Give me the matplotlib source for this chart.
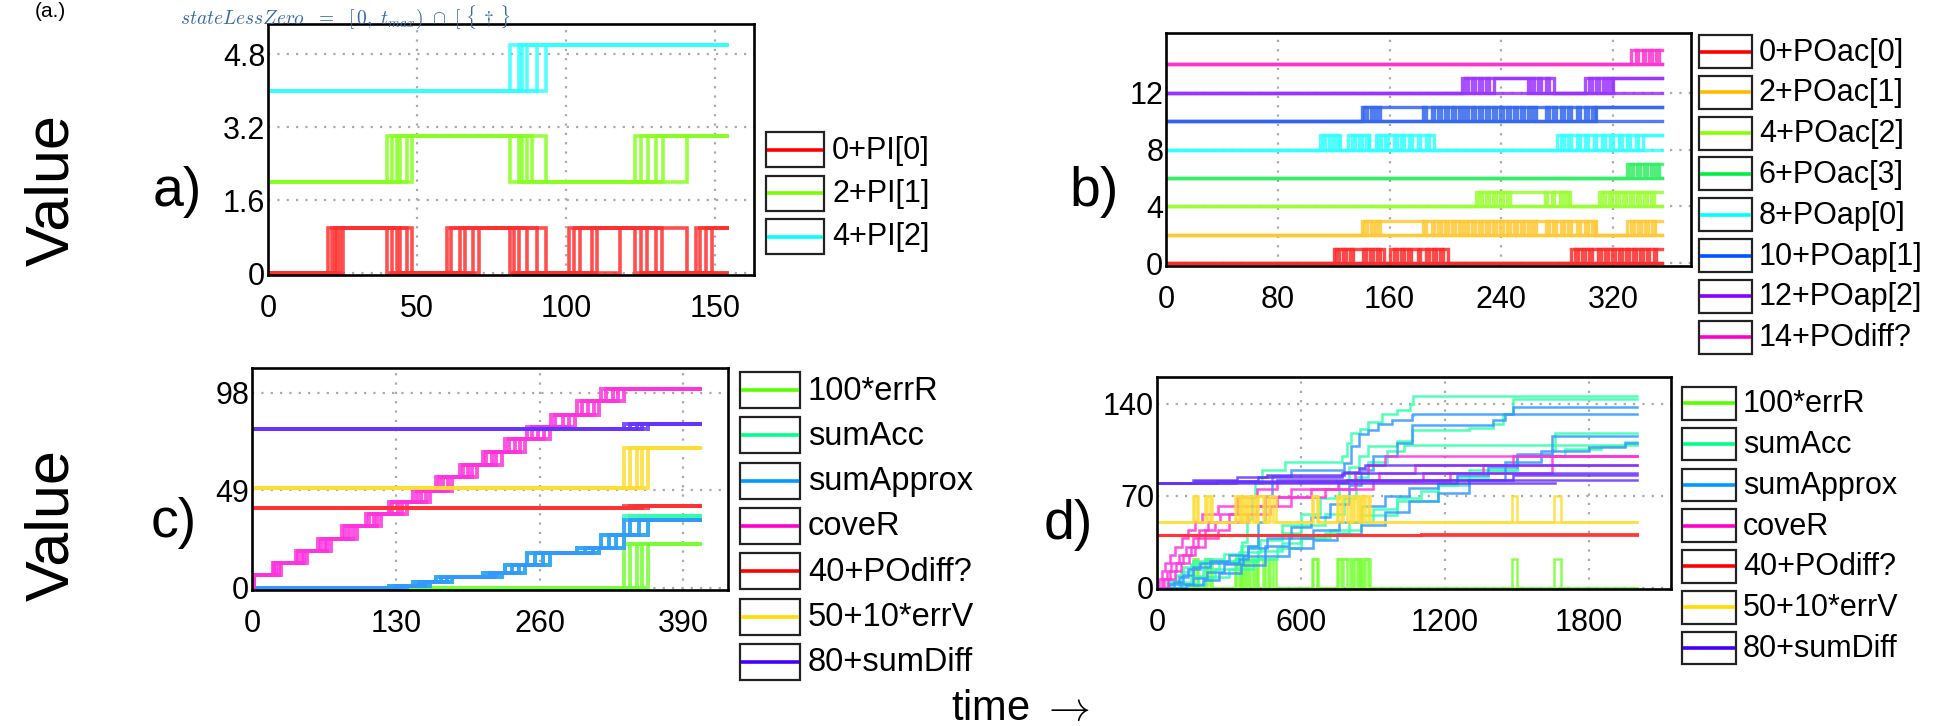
import matplotlib
matplotlib.use("Agg")
import matplotlib.pyplot as plt
from matplotlib.patches import Rectangle

plt.rcParams['font.family'] = ['Liberation Sans', 'DejaVu Sans']
plt.rcParams['mathtext.fontset'] = 'cm'

W, H = 1941, 726

# ---------------- panel a : PI flags (several runs, toggle times) ----------------
a_labels = ['0+PI[0]', '2+PI[1]', '4+PI[2]']
a_offsets = [0, 2, 4]
a_colors = ['#ff3030', '#88ff22', '#33ffff']
a_legend_colors = ['#ff0000', '#77ff00', '#00ffff']
a_t_end = 154
a_runs = [
    [[20.0, 40.0, 60.0, 81.0, 101.0, 123.0, 143.5],
     [21.5, 41.5, 61.5, 82.5, 102.5, 125.0, 145.0],
     [22.5, 43.2, 64.4, 84.3, 104.7, 127.0, 147.0],
     [24.2, 46.6, 68.9, 86.8, 108.6, 130.0],
     [25.3, 48.2, 70.6, 90.1, 110.3, 132.0],
     [23.0, 44.3, 66.0, 93.3, 118.1, 140.6, 149.0]],
    [[40.0, 81.0, 123.0], [41.5, 84.3, 125.0], [44.3, 86.8, 127.5],
     [46.6, 88.5, 130.0], [48.2, 93.3, 132.5], [43.2, 85.1, 140.6]],
    [[81.0], [84.3], [85.1], [86.8], [90.1], [93.3]],
]

# ---------------- panel b : PO flags (envelope / pulse / base runs) ----------------
b_labels = ['0+POac[0]', '2+POac[1]', '4+POac[2]', '6+POac[3]',
            '8+POap[0]', '10+POap[1]', '12+POap[2]', '14+POdiff?']
b_offsets = [0, 2, 4, 6, 8, 10, 12, 14]
b_colors = ['#ff2a2a', '#ffc833', '#99ff33', '#33ee66',
            '#33ffff', '#3366ee', '#9933ff', '#ff33cc']
b_legend_colors = ['#ff0000', '#ffbb00', '#88ff00', '#00ee44',
                   '#00ffff', '#0055ff', '#8800ff', '#ff00cc']
b_t_end = 355
b_env = [
    [120, 156, 160, 202, 290],
    [140, 308, 330],
    [222, 289, 310],
    [330],
    [110, 124.5, 130, 145.5, 150, 192, 280],
    [140],
    [212, 278, 300],
    [333],
]
b_base = [[], [], [], [], [341.6], [308], [235, 259, 320], []]
b_pulse = [
    [122, 124, 127, 129, 132, 134, 141, 143, 146, 148, 151, 153,
     163, 165, 168, 170, 173, 175, 180, 182, 186, 188, 191, 193, 196, 198,
     293, 295, 298, 300, 303, 305, 309, 311, 314, 316, 319, 321, 324, 326,
     329, 331, 334, 336, 339, 341, 344, 346, 349, 351],
    [142, 144, 147, 149, 151, 153,
     184, 186, 190, 192, 195, 197, 200, 202, 205, 207, 210, 212, 214, 216,
     219, 221, 224, 226, 229, 231, 234, 236, 239, 241, 244, 246, 249, 251,
     254, 256, 259, 261, 263, 265,
     272, 274, 277, 279, 283, 285, 288, 290, 294, 296, 300, 302, 305, 307,
     333, 335, 338, 340, 343, 345, 348, 350],
    [224, 226, 229, 231, 234, 236, 239, 241, 244, 246,
     271, 273, 276, 278, 282, 284, 286, 288,
     312, 314, 317, 319, 322, 324, 327, 329, 332, 334, 337, 339, 342, 344, 347, 349],
    [332, 334, 337, 339, 342, 344, 347, 349, 351, 353],
    [112, 114, 117, 119, 121, 123, 133, 135, 138, 140, 143, 145,
     152, 154, 157, 159, 163, 165, 168, 170, 174, 176, 180, 182, 186, 188,
     283, 285, 288, 290, 294, 296, 300, 302, 306, 308, 312, 314, 318, 320,
     324, 326, 330, 332, 336, 338],
    [142, 144, 147, 149, 151, 153,
     184, 186, 190, 192, 195, 197, 200, 202, 205, 207, 210, 212, 214, 216,
     219, 221, 224, 226, 229, 231, 234, 236, 239, 241, 244, 246, 249, 251,
     254, 256, 259, 261, 263, 265,
     272, 274, 277, 279, 283, 285, 288, 290, 294, 296, 300, 302, 305, 307],
    [214, 216, 219, 221, 224, 226, 229, 231, 261, 263, 266, 268, 272, 274,
     303, 305, 308, 310, 313, 315, 317, 319],
    [336, 338, 341, 343, 346, 348, 351, 353],
]

# ---------------- panel c / d shared legend ----------------
cd_labels = ['100*errR', 'sumAcc', 'sumApprox', 'coveR',
             '40+POdiff?', '50+10*errV', '80+sumDiff']
cd_colors = ['#77ff33', '#33ffaa', '#3399ff', '#ff33dd',
             '#ff3333', '#ffdd33', '#6633ff']
cd_legend_colors = ['#55ff00', '#00ff88', '#0099ff', '#ff00cc',
                    '#ff0000', '#ffdd00', '#4400ff']

# ---------------- panel c ----------------
c_t_end = 405
c_cove_v = [6.3, 12.5, 18.5, 24.7, 30.9, 37.1, 43.1, 48.8, 55.6, 61.9,
            68.2, 74.6, 80.8, 87.0, 93.7, 100.0]
c_cove_t = [
    [0, 19, 40, 60, 81, 103, 124, 146, 166, 188, 209, 229, 249, 270, 294, 316],
    [1, 20, 42, 62, 84, 106, 127, 149, 169, 191, 212, 232, 253, 274, 298, 320],
    [1, 22, 45, 66, 88, 110, 132, 153, 173, 195, 217, 238, 259, 281, 304, 326],
    [2, 24, 47, 68, 91, 113, 136, 157, 177, 199, 221, 242, 264, 287, 309, 331],
    [2, 26, 50, 71, 95, 117, 140, 161, 181, 203, 226, 247, 269, 292, 314, 336],
]
c_sum_t = [
    [124, 146, 166, 209, 229, 249, 294, 316, 336],
    [129, 151, 171, 215, 235, 256, 301, 323, 342],
    [135, 156, 176, 220, 241, 263, 308, 329, 350],
    [140, 161, 181, 226, 247, 269, 314, 336, 358],
]
c_approx_v = [1.0, 2.9, 5.4, 7.6, 11.3, 17.6, 20.0, 26.4, 33.9]
c_acc_v = [1.0, 2.9, 5.4, 7.6, 11.3, 17.6, 20.0, 26.4, 36.0]
c_jump_t = [336, 342, 348, 353, 358]
c_errR = (0.0, 22.2)
c_podiff = (40.0, 41.2)
c_errV = (50.0, 70.0)
c_sumdiff = (80.0, 82.1)

# ---------------- panel d ----------------
d_t_end = 2000
d_err_pulses = [(149, 172), (200, 231), (325, 340), (346, 356), (364, 380),
                (388, 408), (415, 450), (464, 494), (644, 672), (749, 767),
                (775, 804), (814, 832), (840, 850), (858, 888), (1478, 1499),
                (1656, 1683)]
d_err_pulses2 = [(155, 165), (210, 222), (330, 350), (372, 398), (420, 440),
                 (470, 485), (650, 665), (755, 790), (820, 845), (865, 880)]
d_errR = (0.0, 22.0)
d_errV = (50.0, 70.0)
d_acc = [
    ([0, 40, 80, 110, 150, 330, 355, 375, 395, 410, 436, 533, 769, 790, 810, 846, 880, 936, 1000, 1054, 1068],
     [0, 4, 10, 16, 20, 23, 35, 52, 68, 80, 90, 96, 100, 110, 118, 121, 126, 132, 135, 140, 146]),
    ([0, 60, 100, 140, 200, 280, 350, 420, 520, 600, 680, 760, 800, 840, 880, 1000, 1061, 1300, 1400, 1440, 1485],
     [0, 5, 12, 18, 22, 26, 32, 40, 48, 56, 68, 80, 92, 100, 108, 112, 120, 122, 125, 132, 143.6]),
    ([0, 90, 140, 190, 260, 340, 430, 520, 600, 700, 780, 830, 880, 960, 1030],
     [0, 4, 9, 14, 20, 27, 36, 42, 48, 56, 68, 84, 96, 104, 109]),
    ([0, 110, 170, 240, 330, 420, 520, 600, 700, 800, 900, 1000, 1100, 1172, 1250, 1380, 1500, 1645, 1658],
     [0, 3, 8, 14, 20, 28, 34, 38, 42, 50, 60, 68, 74, 78, 84, 90, 100, 105, 117.7]),
    ([0, 130, 200, 300, 400, 500, 600, 720, 850, 1000, 1172, 1300, 1500, 1700, 1850, 1950],
     [0, 3, 8, 14, 22, 30, 38, 44, 55, 66, 78, 90, 100, 106, 108, 111]),
]
d_approx = [
    ([0, 50, 90, 130, 180, 340, 380, 420, 450, 480, 560, 780, 810, 840, 881, 920, 980, 1061, 1068],
     [0, 3, 8, 14, 19, 22, 32, 50, 70, 85, 89.8, 95, 108, 117.3, 120, 125, 128, 131.6, 132.1]),
    ([0, 70, 110, 150, 220, 300, 380, 460, 560, 640, 720, 800, 850, 900, 1000, 1061, 1400, 1450, 1485],
     [0, 4, 10, 16, 20, 25, 30, 38, 46, 54, 64, 78, 90, 100, 110, 124, 128, 132, 137.9]),
    ([0, 100, 150, 210, 280, 360, 450, 550, 650, 760, 850, 950, 1050, 1172, 1250, 1380, 1500, 1645],
     [0, 3, 7, 12, 18, 24, 32, 38, 44, 50, 62, 70, 76, 80, 86, 92, 102, 115.9]),
    ([0, 120, 190, 260, 350, 450, 550, 650, 750, 850, 950, 1050, 1172, 1300, 1450, 1600, 1800, 1950],
     [0, 2, 6, 11, 17, 24, 30, 36, 41, 48, 58, 66, 72, 82, 96, 104, 107, 110]),
]
d_cove_v = [0, 6.25, 12.5, 18.75, 25, 31.25, 37.5, 43.75, 50, 56.25, 62.5,
            68.75, 75, 81.25, 87.5, 93.75, 100]
d_cove_t = [
    [0, 8, 19, 33, 54, 75, 103, 131, 158, 186, 256, 332, 415, 499, 825, 881, 950],
    [0, 20, 40, 60, 90, 120, 150, 175, 214, 263, 332, 450, 560, 756, 925, 1075, 1485],
    [0, 30, 55, 80, 110, 140, 170, 200, 240, 300, 415, 499, 640, 825, 1110, 1360, 1645],
    [0, 45, 75, 100, 135, 160, 200, 256, 300, 380, 470, 560, 700, 900, 1221, 1645],
]
d_podiff = [([0, 1100], [39.8, 40.8]), ([0], [40.3])]
d_sumdiff = [
    ([0, 152, 332, 460, 780, 840, 867], [79.7, 82.2, 84.0, 86.0, 88.0, 91.0, 93.4]),
    ([0, 160, 420, 770], [79.7, 81.5, 84.3, 87.6]),
    ([0, 250, 500, 1485], [79.7, 81.0, 82.2, 85.9]),
    ([0, 330, 790], [79.7, 80.5, 82.1]),
    ([0], [79.7]),
]
d_sumdiff_end = [2000, 2000, 2000, 2000, 1658]


def toggle_xy(toggles, base, t_end):
    xs, ys = [0.0], [base]
    state = 0
    for t in toggles:
        state = 1 - state
        xs.append(t)
        ys.append(base + state)
    xs.append(t_end)
    ys.append(ys[-1])
    return xs, ys


def path_xy(ts, vs, t_end):
    return list(ts) + [t_end], list(vs) + [vs[-1]]


def jump_xy(t_jump, v0, v1, t_end):
    return [0, t_jump, t_end], [v0, v1, v1]


def pulse_xy(pulses, v0, v1, t_end):
    xs, ys = [0], [v0]
    for s, e in pulses:
        xs += [s, e]
        ys += [v1, v0]
    return xs + [t_end], ys + [v0]


def stairs(ax, x, y, color, lw, alpha=0.85):
    ax.plot(x, y, drawstyle='steps-post', color=color, lw=lw, alpha=alpha,
            solid_joinstyle='miter')


def style_axes(ax, xticks, yticks, yticklabels, xlim, ylim):
    ax.set_xlim(*xlim)
    ax.set_ylim(*ylim)
    ax.set_xticks(xticks)
    ax.set_yticks(yticks)
    ax.set_yticklabels(yticklabels)
    ax.tick_params(length=0, labelsize=22)
    ax.tick_params(axis='x', pad=14)
    ax.tick_params(axis='y', pad=2)
    ax.grid(True, color='#aaaaaa', lw=1.6, ls=(0, (1, 3.2)))
    ax.set_axisbelow(True)
    for s in ax.spines.values():
        s.set_linewidth(1.9)
        s.set_color('black')


def px(l, t, r, b):
    return [l / W, 1 - b / H, (r - l) / W, (b - t) / H]


fig = plt.figure(figsize=(W / 100, H / 100), dpi=100)

# ----- a -----
ax_a = fig.add_axes(px(268, 24, 754, 275))
for runs, off, col in zip(a_runs, a_offsets, a_colors):
    for tg in runs:
        x, y = toggle_xy(tg, off, a_t_end)
        stairs(ax_a, x, y, col, 2.6)
style_axes(ax_a, [0, 50, 100, 150], [0, 1.6, 3.2, 4.8], ['0', '1.6', '3.2', '4.8'],
           (0, 163), (-0.04, 5.46))

# ----- b -----
ax_b = fig.add_axes(px(1166, 33, 1691, 266))
for env, base, pul, off, col in zip(b_env, b_base, b_pulse, b_offsets, b_colors):
    for tg in (base, env, pul):
        x, y = toggle_xy(tg, off, b_t_end)
        stairs(ax_b, x, y, col, 2.4)
style_axes(ax_b, [0, 80, 160, 240, 320], [0, 4, 8, 12], ['0', '4', '8', '12'],
           (0, 375.7), (-0.2, 16.2))

# ----- c -----
ax_c = fig.add_axes(px(252, 368, 728, 590))
for t in c_jump_t:
    stairs(ax_c, *jump_xy(t, c_errR[0], c_errR[1], c_t_end), cd_colors[0], 2.8)
for ts in c_sum_t:
    stairs(ax_c, *path_xy([0] + ts, [0] + c_acc_v, c_t_end), cd_colors[1], 2.8)
for ts in c_sum_t:
    stairs(ax_c, *path_xy([0] + ts, [0] + c_approx_v, c_t_end), cd_colors[2], 2.8)
for ts in c_cove_t:
    stairs(ax_c, *path_xy([0] + ts, [0] + c_cove_v, c_t_end), cd_colors[3], 2.8)
for t in c_jump_t:
    stairs(ax_c, *jump_xy(t, c_podiff[0], c_podiff[1], c_t_end), cd_colors[4], 2.8)
    stairs(ax_c, *jump_xy(t, c_errV[0], c_errV[1], c_t_end), cd_colors[5], 2.8)
    stairs(ax_c, *jump_xy(t, c_sumdiff[0], c_sumdiff[1], c_t_end), cd_colors[6], 2.8)
style_axes(ax_c, [0, 130, 260, 390], [0, 49, 98], ['0', '49', '98'],
           (0, 430.4), (-1.05, 110.4))

# ----- d -----
ax_d = fig.add_axes(px(1157, 377, 1671, 589))
for pl in (d_err_pulses, d_err_pulses2):
    stairs(ax_d, *pulse_xy(pl, d_errR[0], d_errR[1], d_t_end), cd_colors[0], 1.8)
for ts, vs in d_acc:
    stairs(ax_d, *path_xy(ts, vs, d_t_end), cd_colors[1], 1.8)
for ts, vs in d_approx:
    stairs(ax_d, *path_xy(ts, vs, d_t_end), cd_colors[2], 1.8)
for ts in d_cove_t:
    stairs(ax_d, *path_xy(ts, d_cove_v[:len(ts)], d_t_end), cd_colors[3], 1.8)
for ts, vs in d_podiff:
    stairs(ax_d, *path_xy(ts, vs, d_t_end), cd_colors[4], 2.2)
for pl in (d_err_pulses, d_err_pulses2):
    stairs(ax_d, *pulse_xy(pl, d_errV[0], d_errV[1], d_t_end), cd_colors[5], 1.8)
for (ts, vs), te in zip(d_sumdiff, d_sumdiff_end):
    stairs(ax_d, *path_xy(ts, vs, te), cd_colors[6], 1.8)
style_axes(ax_d, [0, 600, 1200, 1800], [0, 70, 140], ['0', '70', '140'],
           (0, 2142), (-1, 160.5))

# ----- overlay in pixel coordinates: legends and labels -----
ov = fig.add_axes([0, 0, 1, 1], zorder=10)
ov.set_xlim(0, W)
ov.set_ylim(H, 0)
ov.axis('off')
ov.patch.set_alpha(0)


def legend_boxes(x0, x1, y_top, step, h, labels, colors, fs, tx):
    for i, (lab, col) in enumerate(zip(labels, colors)):
        yt = y_top + i * step
        ov.add_patch(Rectangle((x0, yt), x1 - x0, h, fill=False, lw=1.6, ec='#222222'))
        ov.plot([x0 + 1, x1 - 1], [yt + h / 2] * 2, color=col, lw=2.6, solid_capstyle='butt')
        ov.text(tx, yt + h / 2 + 1, lab, fontsize=fs, va='center', ha='left')


legend_boxes(766, 824, 132, 43.5, 35, a_labels, a_legend_colors, 22, 832)
legend_boxes(1699, 1752, 35, 40.8, 33, b_labels, b_legend_colors, 22, 1759)
legend_boxes(740, 800, 372, 45.3, 36, cd_labels, cd_legend_colors, 23.5, 808)
legend_boxes(1682, 1736, 387, 40.8, 32.5, cd_labels, cd_legend_colors, 22, 1743)

for lab, (x, y) in zip(['a)', 'b)', 'c)', 'd)'],
                       [(177, 192), (1094, 192), (174, 523), (1068, 525)]):
    ov.text(x, y, lab, fontsize=40, ha='center', va='center')

ov.text(53, 190, 'Value', fontsize=44, rotation=90, ha='center', va='center')
ov.text(53, 525, 'Value', fontsize=44, rotation=90, ha='center', va='center')
ov.text(1020, 720, r'time $\rightarrow$', fontsize=30, ha='center', va='baseline')

# heading strip at the very top
ov.text(35, 2, '(a.)', fontsize=15, ha='left', va='top')
ov.text(180, 3, r'$stateLessZero\ \ =\ \ [\,0,\ t_{max})\ \cap\ [\ \{\,\dagger\,\}$',
        fontsize=14, color='#3868a8', ha='left', va='top')

fig.savefig('out.png', dpi=100)
